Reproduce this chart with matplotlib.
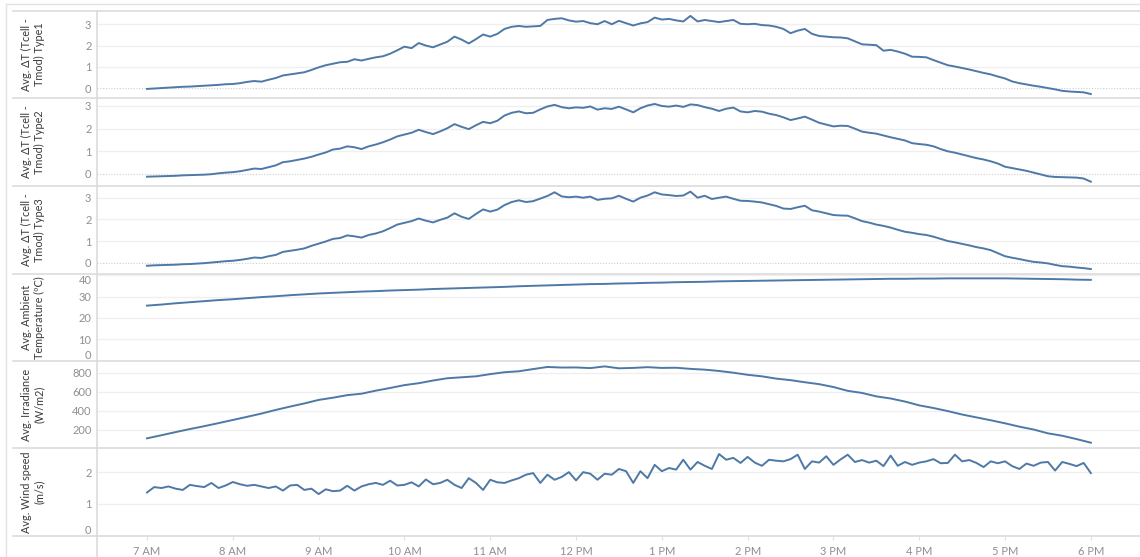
import numpy as np
import matplotlib
matplotlib.use("Agg")
import matplotlib.pyplot as plt
from matplotlib.lines import Line2D

plt.rcParams['font.family'] = ['Lato', 'DejaVu Sans']

# ---- data: 5-minute averages from 7 AM to 6 PM ----
dt_type1 = [
    -0.03, -0.01, 0.01, 0.03, 0.05, 0.07, 0.08, 0.10, 0.12, 0.14, 0.16, 0.19,
    0.20, 0.24, 0.30, 0.34, 0.31, 0.40, 0.48, 0.60, 0.65, 0.70, 0.75, 0.86,
    0.98, 1.08, 1.15, 1.22, 1.24, 1.36, 1.30, 1.38, 1.45, 1.50, 1.62, 1.78,
    1.95, 1.88, 2.12, 2.00, 1.92, 2.05, 2.18, 2.42, 2.28, 2.10, 2.30, 2.52,
    2.42, 2.55, 2.78, 2.88, 2.92, 2.88, 2.90, 2.92, 3.20, 3.25, 3.28, 3.18,
    3.12, 3.15, 3.05, 3.00, 3.15, 3.00, 3.16, 3.05, 2.94, 3.04, 3.10, 3.31,
    3.22, 3.25, 3.18, 3.13, 3.39, 3.13, 3.20, 3.15, 3.10, 3.15, 3.20, 3.02,
    3.00, 3.02, 2.96, 2.94, 2.88, 2.78, 2.58, 2.70, 2.78, 2.55, 2.45, 2.42,
    2.39, 2.38, 2.34, 2.20, 2.06, 2.04, 2.02, 1.76, 1.80, 1.72, 1.62, 1.48,
    1.47, 1.45, 1.32, 1.20, 1.08, 1.02, 0.95, 0.88, 0.80, 0.72, 0.65, 0.55,
    0.46, 0.32, 0.24, 0.18, 0.12, 0.07, 0.01, -0.05, -0.12, -0.15, -0.17, -0.19,
    -0.27,
]

dt_type2 = [
    -0.12, -0.11, -0.10, -0.09, -0.08, -0.06, -0.05, -0.04, -0.03, -0.01, 0.03, 0.06,
    0.08, 0.12, 0.18, 0.24, 0.22, 0.30, 0.38, 0.52, 0.56, 0.62, 0.68, 0.76,
    0.86, 0.95, 1.08, 1.12, 1.22, 1.18, 1.10, 1.22, 1.30, 1.40, 1.52, 1.66,
    1.74, 1.82, 1.95, 1.85, 1.76, 1.88, 2.02, 2.20, 2.08, 1.98, 2.15, 2.30,
    2.24, 2.35, 2.58, 2.70, 2.76, 2.68, 2.70, 2.85, 2.98, 3.05, 2.95, 2.90,
    2.94, 2.92, 2.98, 2.84, 2.90, 2.87, 2.97, 2.85, 2.72, 2.90, 3.02, 3.09,
    3.00, 2.97, 3.02, 2.96, 3.07, 3.04, 2.95, 2.88, 2.78, 2.88, 2.93, 2.76,
    2.72, 2.78, 2.75, 2.66, 2.60, 2.50, 2.38, 2.45, 2.53, 2.40, 2.26, 2.18,
    2.10, 2.13, 2.12, 2.00, 1.87, 1.82, 1.78, 1.70, 1.62, 1.55, 1.48, 1.36,
    1.32, 1.29, 1.22, 1.10, 1.00, 0.94, 0.86, 0.78, 0.70, 0.64, 0.56, 0.46,
    0.32, 0.26, 0.20, 0.14, 0.06, -0.02, -0.10, -0.13, -0.14, -0.15, -0.16, -0.20,
    -0.34,
]

dt_type3 = [
    -0.14, -0.12, -0.11, -0.10, -0.09, -0.07, -0.06, -0.04, -0.02, 0.01, 0.04, 0.07,
    0.09, 0.13, 0.18, 0.24, 0.22, 0.30, 0.36, 0.50, 0.55, 0.60, 0.66, 0.78,
    0.88, 0.98, 1.10, 1.14, 1.26, 1.22, 1.16, 1.28, 1.35, 1.45, 1.60, 1.76,
    1.84, 1.92, 2.04, 1.94, 1.86, 1.98, 2.08, 2.28, 2.12, 2.02, 2.25, 2.46,
    2.36, 2.45, 2.66, 2.80, 2.88, 2.80, 2.84, 2.96, 3.08, 3.25, 3.06, 3.02,
    3.05, 3.00, 3.05, 2.90, 2.95, 2.97, 3.09, 2.95, 2.82, 3.00, 3.10, 3.25,
    3.15, 3.12, 3.08, 3.10, 3.28, 3.00, 3.09, 2.94, 3.00, 3.05, 2.95, 2.86,
    2.85, 2.82, 2.78, 2.70, 2.62, 2.50, 2.48, 2.56, 2.63, 2.42, 2.36, 2.28,
    2.20, 2.18, 2.17, 2.05, 1.92, 1.85, 1.76, 1.70, 1.62, 1.52, 1.43, 1.38,
    1.32, 1.28, 1.20, 1.10, 1.00, 0.94, 0.87, 0.80, 0.72, 0.66, 0.58, 0.44,
    0.30, 0.23, 0.17, 0.10, 0.04, 0.01, -0.03, -0.10, -0.16, -0.18, -0.22, -0.25,
    -0.29,
]

wind_speed = [
    1.36, 1.53, 1.50, 1.55, 1.48, 1.44, 1.60, 1.56, 1.53, 1.66, 1.50, 1.58,
    1.69, 1.62, 1.57, 1.60, 1.55, 1.50, 1.55, 1.42, 1.58, 1.60, 1.44, 1.48,
    1.31, 1.46, 1.40, 1.42, 1.57, 1.42, 1.55, 1.62, 1.66, 1.60, 1.73, 1.58,
    1.60, 1.68, 1.55, 1.77, 1.62, 1.66, 1.76, 1.60, 1.50, 1.81, 1.66, 1.44,
    1.76, 1.68, 1.66, 1.74, 1.81, 1.92, 1.97, 1.66, 1.92, 1.76, 1.85, 2.00,
    1.74, 2.00, 1.95, 1.76, 1.95, 1.92, 2.10, 2.03, 1.66, 2.03, 1.81, 2.23,
    2.03, 2.13, 2.08, 2.39, 2.08, 2.32, 2.20, 2.10, 2.57, 2.39, 2.45, 2.29,
    2.48, 2.30, 2.20, 2.39, 2.36, 2.34, 2.41, 2.55, 2.10, 2.34, 2.30, 2.50,
    2.23, 2.40, 2.55, 2.32, 2.38, 2.30, 2.36, 2.19, 2.52, 2.20, 2.32, 2.23,
    2.30, 2.34, 2.41, 2.28, 2.29, 2.55, 2.34, 2.38, 2.29, 2.16, 2.34, 2.28,
    2.34, 2.19, 2.10, 2.27, 2.20, 2.30, 2.32, 2.05, 2.32, 2.26, 2.19, 2.29,
    1.97,
]

# ---- data: 10-minute averages from 7 AM to 6 PM ----
ambient_temp = [
    25.8, 26.3, 26.9, 27.4, 27.9, 28.4,
    28.8, 29.3, 29.8, 30.2, 30.7, 31.1,
    31.5, 31.8, 32.1, 32.4, 32.6, 32.9,
    33.1, 33.3, 33.6, 33.8, 34.0, 34.2,
    34.4, 34.6, 34.9, 35.1, 35.3, 35.5,
    35.7, 35.9, 36.0, 36.2, 36.3, 36.5,
    36.6, 36.8, 36.9, 37.0, 37.2, 37.3,
    37.4, 37.5, 37.6, 37.7, 37.8, 37.9,
    38.0, 38.1, 38.2, 38.3, 38.4, 38.4,
    38.5, 38.5, 38.6, 38.6, 38.6, 38.6,
    38.6, 38.5, 38.4, 38.3, 38.2, 38.0,
    37.9,
]

irradiance = [
    113, 145, 178, 210, 240, 272,
    305, 338, 372, 410, 445, 478,
    515, 538, 565, 580, 612, 640,
    670, 690, 718, 742, 752, 762,
    785, 805, 815, 838, 860, 854,
    855, 848, 866, 846, 850, 858,
    850, 852, 840, 832, 818, 800,
    778, 762, 738, 722, 700, 680,
    650, 610, 588, 552, 530, 498,
    458, 430, 398, 362, 332, 302,
    270, 235, 205, 165, 140, 105,
    67,
]

hour_ticks = list(range(7, 19))
hour_labels = ["7 AM", "8 AM", "9 AM", "10 AM", "11 AM", "12 PM",
               "1 PM", "2 PM", "3 PM", "4 PM", "5 PM", "6 PM"]

row_titles = [
    "Avg. \u0394T (Tcell -\nTmod) Type1",
    "Avg. \u0394T (Tcell -\nTmod) Type2",
    "Avg. \u0394T (Tcell -\nTmod) Type3",
    "Avg. Ambient\nTemperature (\u00baC)",
    "Avg. Irradiance\n(W/m2)",
    "Avg. Wind speed\n(m/s)",
]


def hours(values, step_min):
    return 7 + np.arange(len(values)) * step_min / 60.0


series = [
    (hours(dt_type1, 5), dt_type1),
    (hours(dt_type2, 5), dt_type2),
    (hours(dt_type3, 5), dt_type3),
    (hours(ambient_temp, 10), ambient_temp),
    (hours(irradiance, 10), irradiance),
    (hours(wind_speed, 5), wind_speed),
]

y_limits = [(-0.455, 3.62), (-0.53, 3.353), (-0.52, 3.54),
            (-0.2, 40.65), (11.5, 922.5), (-0.01, 2.76)]
y_ticks = [[0, 1, 2, 3], [0, 1, 2, 3], [0, 1, 2, 3],
           [0, 10, 20, 30, 40], [200, 400, 600, 800], [0, 1, 2]]

# ---- layout in pixels ----
W, H = 1140, 557
row_edges = [11, 98, 186, 274, 361, 448, 536]
plot_left, plot_right = 97, 1140
header_left = 13

LINE = "#4e79a7"
GRID = "#efefef"
SEP = "#d9d9d9"
TICK = "#8f8f8f"
TITLE = "#3a3a3a"

fig = plt.figure(figsize=(W / 100, H / 100), dpi=100)
fig.patch.set_facecolor("white")


def fx(px):
    return px / W


def fy(py):
    return 1 - py / H


axes = []
for i, (xs, ys) in enumerate(series):
    top, bot = row_edges[i], row_edges[i + 1]
    ax = fig.add_axes([fx(plot_left), fy(bot), fx(plot_right - plot_left),
                       (bot - top) / H])
    ax.set_xlim(6.417, 18.573)
    ax.set_ylim(*y_limits[i])
    ax.set_yticks(y_ticks[i])
    ax.set_yticklabels([f"{t:g}" for t in y_ticks[i]])
    for t in y_ticks[i]:
        if i < 3 and t == 0:
            ax.axhline(t, color="#cfcfcf", lw=0.8, ls=(0, (1, 1.5)), zorder=1)
        else:
            ax.axhline(t, color=GRID, lw=0.9, zorder=1)
    ax.plot(xs, ys, color=LINE, lw=1.4, zorder=3, solid_joinstyle="round")
    for s in ax.spines.values():
        s.set_visible(False)
    ax.tick_params(axis="y", length=0, pad=4, labelsize=8, labelcolor=TICK)
    ax.set_xticks(hour_ticks)
    if i < 5:
        ax.tick_params(axis="x", length=0, labelbottom=False)
    else:
        ax.set_xticklabels(hour_labels)
        ax.tick_params(axis="x", length=3, width=0.8, color="#e0e0e0",
                       pad=4, labelsize=8, labelcolor=TICK)
    ax.patch.set_alpha(0)
    axes.append(ax)

# keep edge tick labels inside their panel
for i in (3, 5):
    fig.canvas.draw()
    labels = axes[i].yaxis.get_majorticklabels()
    labels[0].set_verticalalignment("bottom")
    if i == 3:
        labels[-1].set_verticalalignment("top")

# row titles
for i, title in enumerate(row_titles):
    top, bot = row_edges[i], row_edges[i + 1]
    fig.text(fx(33), fy((top + bot) / 2), title, rotation=90,
             ha="center", va="center", fontsize=7.8, color=TITLE,
             linespacing=1.25)

# frame, row separators and header divider
fig.add_artist(Line2D([fx(6), 1], [fy(4), fy(4)], color="#e3e3e3", lw=1.0))
fig.add_artist(Line2D([fx(6), fx(6)], [fy(4), 0], color="#e3e3e3", lw=1.0))
for py in row_edges:
    fig.add_artist(Line2D([fx(header_left), 1], [fy(py), fy(py)],
                          color=SEP, lw=1.1))
fig.add_artist(Line2D([fx(plot_left), fx(plot_left)], [fy(row_edges[0]), 0],
                      color=SEP, lw=1.1))

fig.savefig("out.png", dpi=100, facecolor="white")
